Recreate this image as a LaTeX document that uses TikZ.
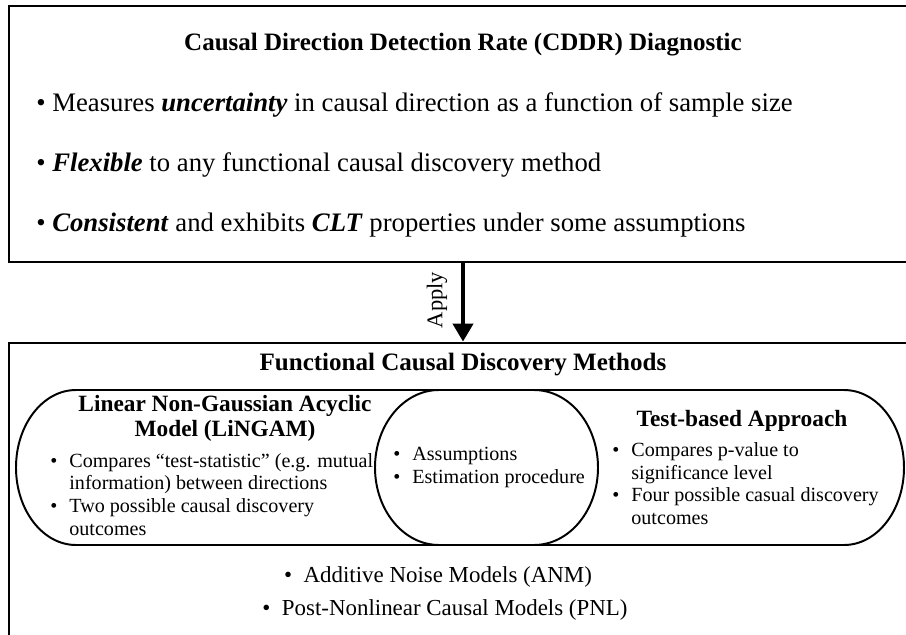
\documentclass[tikz,border=0pt]{standalone}
\usepackage{fontspec}
\setmainfont{Liberation Serif}
\usepackage{tikz}
\usetikzlibrary{arrows.meta,positioning,calc}

\newcommand{\bul}{\makebox[0.95em][l]{\textbullet}}
\newcommand{\ind}{\hspace*{0.95em}}

\begin{document}
\begin{tikzpicture}[
    panel/.style={rectangle, draw, line width=2pt, minimum width=22.7cm},
    head/.style={font=\fontsize{17.8}{20}\selectfont\bfseries, align=center},
    subhead/.style={font=\fontsize{16.6}{17.7}\selectfont\bfseries, align=center},
    item/.style={anchor=west, inner sep=0pt, font=\fontsize{19}{22}\selectfont},
    sub/.style={anchor=west, inner sep=0pt, align=left, font=\fontsize{14.3}{16.2}\selectfont},
    model/.style={anchor=center, inner sep=0pt, font=\fontsize{16.3}{18}\selectfont},
    lobe/.style={line width=1.4pt},
    >=Stealth
]
    \useasboundingbox (0,0) rectangle (22.65,-15.875);
    \clip (0,0) rectangle (22.65,-15.875);

    % CDDR diagnostic
    \node[panel, minimum height=6.4cm] (cddr) at (11.575,-3.35) {};
    \node[head] (cddrtitle) at (11.575,-1.12) {Causal Direction Detection Rate (CDDR) Diagnostic};
    \node[item] (uncert) at (0.9,-2.625) {\textbullet\ Measures \textbf{\textit{uncertainty}} in causal direction as a function of sample size};
    \node[item] (flex) at (0.9,-4.125) {\textbullet\ \textbf{\textit{Flexible}} to any functional causal discovery method};
    \node[item] (consist) at (0.9,-5.625) {\textbullet\ \textbf{\textit{Consistent}} and exhibits \textbf{\textit{CLT}} properties under some assumptions};

    % Functional causal discovery methods
    \node[panel, minimum height=8.425cm] (methods) at (11.575,-12.7875) {};
    \node[head] (fcdtitle) at (11.575,-9.125) {Functional Causal Discovery Methods};

    % Apply arrow
    \draw[-{Triangle[width=0.5cm, length=0.45cm]}, line width=3pt] (cddr.south) -- (methods.north);
    \node[rotate=90, font=\fontsize{16}{18}\selectfont] (apply) at (10.925,-7.5) {Apply};

    % Outer lobe and middle lobe
    \draw[lobe] (1.9,-9.75) -- (21.1,-9.75)
        arc[start angle=90, end angle=-90, x radius=1.5, y radius=1.9375]
        -- (1.9,-13.625)
        arc[start angle=270, end angle=90, x radius=1.5, y radius=1.9375] -- cycle;
    \draw[lobe] (10.975,-9.75) -- (13.35,-9.75)
        arc[start angle=90, end angle=-90, x radius=1.6, y radius=1.9375]
        -- (10.975,-13.625)
        arc[start angle=270, end angle=90, x radius=1.6, y radius=1.9375] -- cycle;

    % LiNGAM
    \node[subhead] (lingam) at (5.625,-10.47) {Linear Non-Gaussian Acyclic\\Model (LiNGAM)};
    \node[sub] (lingamlist) at (1.25,-12.36) {\bul Compares “test-statistic” (e.g. mutual\\
        \ind information) between directions\\
        \bul Two possible causal discovery\\
        \ind outcomes};

    % Shared
    \node[sub] (shared) at (9.825,-11.69) {\bul Assumptions\\ \bul Estimation procedure};

    % Test-based
    \node[subhead] (testbased) at (18.55,-10.52) {Test-based Approach};
    \node[sub] (testlist) at (15.3,-12.09) {\bul Compares p-value to\\
        \ind significance level\\
        \bul Four possible casual discovery\\
        \ind outcomes};

    % Model classes
    \node[model] (anm) at (10.95,-14.425) {\textbullet\ \ Additive Noise Models (ANM)};
    \node[model] (pnl) at (11.125,-15.25) {\textbullet\ \ Post-Nonlinear Causal Models (PNL)};
\end{tikzpicture}
\end{document}
